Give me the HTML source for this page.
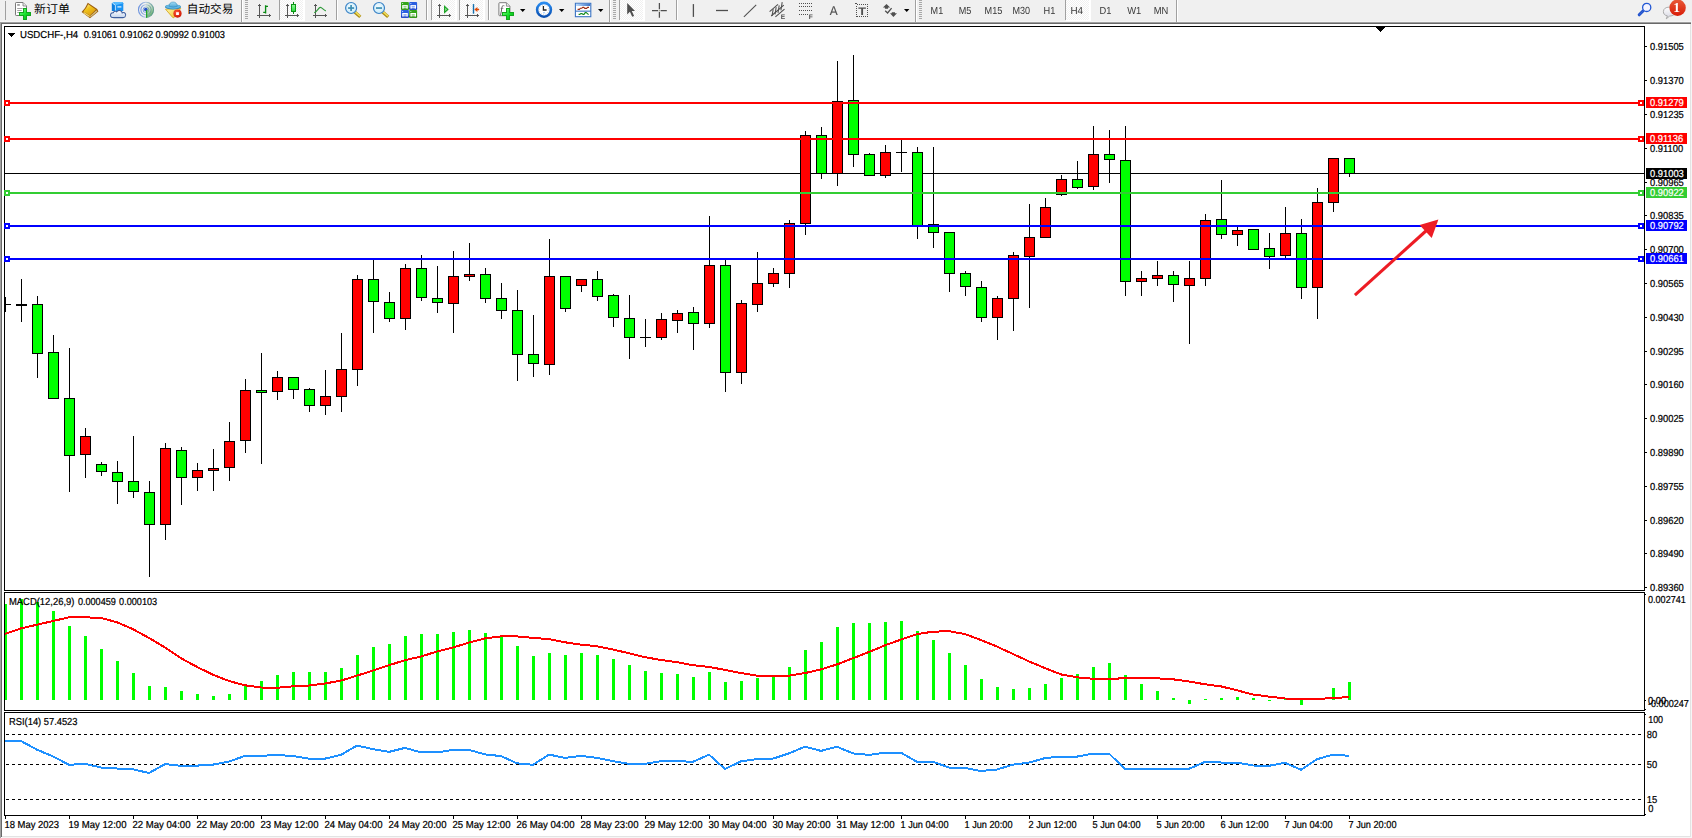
<!DOCTYPE html>
<html lang="zh"><head><meta charset="utf-8"><title>USDCHF-,H4</title>
<style>html,body{margin:0;padding:0;background:#fff;overflow:hidden}body{width:1692px;height:838px}</style></head>
<body>
<svg width="1692" height="838" viewBox="0 0 1692 838" shape-rendering="crispEdges" text-rendering="geometricPrecision" font-family="'Liberation Sans','Noto Sans CJK SC',sans-serif" style="display:block"><defs><clipPath id="cm"><rect x="5" y="27" width="1639" height="563"/></clipPath><clipPath id="cmacd"><rect x="5" y="593" width="1639" height="117"/></clipPath><clipPath id="crsi"><rect x="5" y="713" width="1639" height="102"/></clipPath><clipPath id="ctb"><rect x="0" y="0" width="1692" height="22"/></clipPath><pattern id="chk" x="0" y="0" width="2" height="2" patternUnits="userSpaceOnUse"><rect width="2" height="2" fill="#ffffff"/><rect x="0" y="0" width="1" height="1" fill="#f0f0f0"/><rect x="1" y="1" width="1" height="1" fill="#f0f0f0"/></pattern><linearGradient id="gplus" x1="0" y1="0" x2="1" y2="1"><stop offset="0" stop-color="#7dff86"/><stop offset="0.5" stop-color="#18e22c"/><stop offset="1" stop-color="#0aa818"/></linearGradient><linearGradient id="gold" x1="0.1" y1="0" x2="0.8" y2="1"><stop offset="0" stop-color="#ffe98c"/><stop offset="0.4" stop-color="#f0c21a"/><stop offset="1" stop-color="#d8960e"/></linearGradient><linearGradient id="sigfill" x1="0.2" y1="0" x2="0.6" y2="1"><stop offset="0" stop-color="#dfeadb" stop-opacity="0.5"/><stop offset="0.55" stop-color="#a8d0a4" stop-opacity="0.8"/><stop offset="1" stop-color="#3f9c44"/></linearGradient><linearGradient id="cloud" x1="0" y1="0" x2="0" y2="1"><stop offset="0" stop-color="#ffffff"/><stop offset="1" stop-color="#c4d4ec"/></linearGradient><linearGradient id="sig" x1="0" y1="0" x2="1" y2="0"><stop offset="0" stop-color="#3f73d8"/><stop offset="0.5" stop-color="#9db9dc"/><stop offset="1" stop-color="#4f8f8a"/></linearGradient><linearGradient id="face" x1="0" y1="0" x2="1" y2="1"><stop offset="0" stop-color="#fff7a8"/><stop offset="1" stop-color="#f0c020"/></linearGradient><linearGradient id="hat" x1="0" y1="0" x2="0" y2="1"><stop offset="0" stop-color="#a4dcf4"/><stop offset="1" stop-color="#4aa6d6"/></linearGradient><radialGradient id="stop" cx="0.4" cy="0.35" r="0.7"><stop offset="0" stop-color="#ff5a3a"/><stop offset="1" stop-color="#cc1400"/></radialGradient><linearGradient id="gcandle" x1="0" y1="0" x2="1" y2="0"><stop offset="0" stop-color="#3fe04f"/><stop offset="0.5" stop-color="#a4f4a8"/><stop offset="1" stop-color="#2fd43f"/></linearGradient><linearGradient id="gcandle2" x1="0" y1="0" x2="0" y2="1"><stop offset="0" stop-color="#8cfa94"/><stop offset="1" stop-color="#2fdc42"/></linearGradient><radialGradient id="lens" cx="0.45" cy="0.4" r="0.7"><stop offset="0" stop-color="#f4fcff"/><stop offset="1" stop-color="#bfe6f8"/></radialGradient><linearGradient id="clk" x1="0" y1="0" x2="0" y2="1"><stop offset="0" stop-color="#2a8cf0"/><stop offset="1" stop-color="#0a4fb0"/></linearGradient><linearGradient id="ttl" x1="0" y1="0" x2="1" y2="0"><stop offset="0" stop-color="#bcdcff"/><stop offset="1" stop-color="#3b74c4"/></linearGradient><linearGradient id="bub" x1="0" y1="0" x2="0" y2="1"><stop offset="0" stop-color="#ffffff"/><stop offset="1" stop-color="#d4d4e0"/></linearGradient><linearGradient id="badge" x1="0" y1="0" x2="0" y2="1"><stop offset="0" stop-color="#e85a38"/><stop offset="1" stop-color="#d81c08"/></linearGradient></defs>
<rect x="0" y="0" width="1692" height="838" fill="#ffffff"/>
<rect x="0" y="0" width="1692" height="21" fill="#f0f0f0"/>
<rect x="0" y="21" width="1692" height="1" fill="#f5f5f5"/>
<rect x="0" y="22" width="1691" height="1" fill="#a0a0a0"/>
<rect x="0" y="23" width="1691" height="1" fill="#696969"/>
<rect x="0" y="23" width="1" height="815" fill="#a0a0a0"/>
<rect x="1" y="23" width="1" height="814" fill="#696969"/>
<rect x="1690" y="24" width="1" height="813" fill="#e3e3e3"/>
<rect x="1691" y="22" width="1" height="816" fill="#f6f6f6"/>
<rect x="2" y="836" width="1689" height="1" fill="#e3e3e3"/>
<rect x="2" y="837" width="1690" height="1" fill="#f6f6f6"/>
<rect x="4" y="26" width="1641" height="1" fill="#000"/>
<rect x="4" y="590" width="1641" height="1" fill="#000"/>
<rect x="4" y="26" width="1" height="565" fill="#000"/>
<rect x="1644" y="26" width="1" height="565" fill="#000"/>
<rect x="4" y="592" width="1641" height="1" fill="#000"/>
<rect x="4" y="710" width="1641" height="1" fill="#000"/>
<rect x="4" y="592" width="1" height="119" fill="#000"/>
<rect x="1644" y="592" width="1" height="119" fill="#000"/>
<rect x="4" y="712" width="1641" height="1" fill="#000"/>
<rect x="4" y="815" width="1641" height="1" fill="#000"/>
<rect x="4" y="712" width="1" height="104" fill="#000"/>
<rect x="1644" y="712" width="1" height="104" fill="#000"/>
<polygon points="1375.5,27 1385.5,27 1380.5,32" fill="#000"/>
<rect x="5" y="173" width="1639" height="1" fill="#000"/>
<g clip-path="url(#cm)">
<rect x="5" y="297" width="1" height="15" fill="#000"/>
<rect x="0" y="304" width="11" height="1" fill="#000"/>
<rect x="21" y="279" width="1" height="43" fill="#000"/>
<rect x="16" y="304" width="11" height="2" fill="#000"/>
<rect x="37" y="296" width="1" height="82" fill="#000"/>
<rect x="32" y="304" width="11" height="50" fill="#000"/>
<rect x="33" y="305" width="9" height="48" fill="#00ff00"/>
<rect x="53" y="335" width="1" height="63" fill="#000"/>
<rect x="48" y="352" width="11" height="47" fill="#000"/>
<rect x="49" y="353" width="9" height="45" fill="#00ff00"/>
<rect x="69" y="348" width="1" height="144" fill="#000"/>
<rect x="64" y="398" width="11" height="58" fill="#000"/>
<rect x="65" y="399" width="9" height="56" fill="#00ff00"/>
<rect x="85" y="428" width="1" height="50" fill="#000"/>
<rect x="80" y="436" width="11" height="19" fill="#000"/>
<rect x="81" y="437" width="9" height="17" fill="#ff0000"/>
<rect x="101" y="462" width="1" height="14" fill="#000"/>
<rect x="96" y="464" width="11" height="8" fill="#000"/>
<rect x="97" y="465" width="9" height="6" fill="#00ff00"/>
<rect x="117" y="461" width="1" height="43" fill="#000"/>
<rect x="112" y="472" width="11" height="10" fill="#000"/>
<rect x="113" y="473" width="9" height="8" fill="#00ff00"/>
<rect x="133" y="436" width="1" height="62" fill="#000"/>
<rect x="128" y="481" width="11" height="11" fill="#000"/>
<rect x="129" y="482" width="9" height="9" fill="#00ff00"/>
<rect x="149" y="481" width="1" height="96" fill="#000"/>
<rect x="144" y="492" width="11" height="33" fill="#000"/>
<rect x="145" y="493" width="9" height="31" fill="#00ff00"/>
<rect x="165" y="443" width="1" height="97" fill="#000"/>
<rect x="160" y="448" width="11" height="77" fill="#000"/>
<rect x="161" y="449" width="9" height="75" fill="#ff0000"/>
<rect x="181" y="447" width="1" height="58" fill="#000"/>
<rect x="176" y="450" width="11" height="28" fill="#000"/>
<rect x="177" y="451" width="9" height="26" fill="#00ff00"/>
<rect x="197" y="463" width="1" height="28" fill="#000"/>
<rect x="192" y="470" width="11" height="8" fill="#000"/>
<rect x="193" y="471" width="9" height="6" fill="#ff0000"/>
<rect x="213" y="449" width="1" height="42" fill="#000"/>
<rect x="208" y="468" width="11" height="3" fill="#000"/>
<rect x="209" y="469" width="9" height="1" fill="#ff0000"/>
<rect x="229" y="422" width="1" height="59" fill="#000"/>
<rect x="224" y="441" width="11" height="27" fill="#000"/>
<rect x="225" y="442" width="9" height="25" fill="#ff0000"/>
<rect x="245" y="379" width="1" height="74" fill="#000"/>
<rect x="240" y="390" width="11" height="51" fill="#000"/>
<rect x="241" y="391" width="9" height="49" fill="#ff0000"/>
<rect x="261" y="353" width="1" height="111" fill="#000"/>
<rect x="256" y="390" width="11" height="3" fill="#000"/>
<rect x="257" y="391" width="9" height="1" fill="#00ff00"/>
<rect x="277" y="371" width="1" height="29" fill="#000"/>
<rect x="272" y="377" width="11" height="15" fill="#000"/>
<rect x="273" y="378" width="9" height="13" fill="#ff0000"/>
<rect x="293" y="377" width="1" height="22" fill="#000"/>
<rect x="288" y="377" width="11" height="13" fill="#000"/>
<rect x="289" y="378" width="9" height="11" fill="#00ff00"/>
<rect x="309" y="388" width="1" height="24" fill="#000"/>
<rect x="304" y="389" width="11" height="17" fill="#000"/>
<rect x="305" y="390" width="9" height="15" fill="#00ff00"/>
<rect x="325" y="370" width="1" height="45" fill="#000"/>
<rect x="320" y="396" width="11" height="10" fill="#000"/>
<rect x="321" y="397" width="9" height="8" fill="#ff0000"/>
<rect x="341" y="333" width="1" height="79" fill="#000"/>
<rect x="336" y="369" width="11" height="28" fill="#000"/>
<rect x="337" y="370" width="9" height="26" fill="#ff0000"/>
<rect x="357" y="275" width="1" height="111" fill="#000"/>
<rect x="352" y="279" width="11" height="91" fill="#000"/>
<rect x="353" y="280" width="9" height="89" fill="#ff0000"/>
<rect x="373" y="259" width="1" height="74" fill="#000"/>
<rect x="368" y="279" width="11" height="23" fill="#000"/>
<rect x="369" y="280" width="9" height="21" fill="#00ff00"/>
<rect x="389" y="292" width="1" height="30" fill="#000"/>
<rect x="384" y="302" width="11" height="17" fill="#000"/>
<rect x="385" y="303" width="9" height="15" fill="#00ff00"/>
<rect x="405" y="264" width="1" height="66" fill="#000"/>
<rect x="400" y="268" width="11" height="51" fill="#000"/>
<rect x="401" y="269" width="9" height="49" fill="#ff0000"/>
<rect x="421" y="255" width="1" height="46" fill="#000"/>
<rect x="416" y="268" width="11" height="30" fill="#000"/>
<rect x="417" y="269" width="9" height="28" fill="#00ff00"/>
<rect x="437" y="266" width="1" height="47" fill="#000"/>
<rect x="432" y="298" width="11" height="5" fill="#000"/>
<rect x="433" y="299" width="9" height="3" fill="#00ff00"/>
<rect x="453" y="251" width="1" height="82" fill="#000"/>
<rect x="448" y="276" width="11" height="28" fill="#000"/>
<rect x="449" y="277" width="9" height="26" fill="#ff0000"/>
<rect x="469" y="243" width="1" height="38" fill="#000"/>
<rect x="464" y="274" width="11" height="3" fill="#000"/>
<rect x="465" y="275" width="9" height="1" fill="#ff0000"/>
<rect x="485" y="268" width="1" height="35" fill="#000"/>
<rect x="480" y="274" width="11" height="25" fill="#000"/>
<rect x="481" y="275" width="9" height="23" fill="#00ff00"/>
<rect x="501" y="283" width="1" height="36" fill="#000"/>
<rect x="496" y="298" width="11" height="13" fill="#000"/>
<rect x="497" y="299" width="9" height="11" fill="#00ff00"/>
<rect x="517" y="290" width="1" height="91" fill="#000"/>
<rect x="512" y="310" width="11" height="45" fill="#000"/>
<rect x="513" y="311" width="9" height="43" fill="#00ff00"/>
<rect x="533" y="315" width="1" height="62" fill="#000"/>
<rect x="528" y="354" width="11" height="10" fill="#000"/>
<rect x="529" y="355" width="9" height="8" fill="#00ff00"/>
<rect x="549" y="239" width="1" height="136" fill="#000"/>
<rect x="544" y="276" width="11" height="89" fill="#000"/>
<rect x="545" y="277" width="9" height="87" fill="#ff0000"/>
<rect x="565" y="276" width="1" height="36" fill="#000"/>
<rect x="560" y="276" width="11" height="33" fill="#000"/>
<rect x="561" y="277" width="9" height="31" fill="#00ff00"/>
<rect x="581" y="280" width="1" height="12" fill="#000"/>
<rect x="576" y="279" width="11" height="7" fill="#000"/>
<rect x="577" y="280" width="9" height="5" fill="#ff0000"/>
<rect x="597" y="271" width="1" height="30" fill="#000"/>
<rect x="592" y="279" width="11" height="18" fill="#000"/>
<rect x="593" y="280" width="9" height="16" fill="#00ff00"/>
<rect x="613" y="294" width="1" height="33" fill="#000"/>
<rect x="608" y="295" width="11" height="23" fill="#000"/>
<rect x="609" y="296" width="9" height="21" fill="#00ff00"/>
<rect x="629" y="295" width="1" height="64" fill="#000"/>
<rect x="624" y="318" width="11" height="20" fill="#000"/>
<rect x="625" y="319" width="9" height="18" fill="#00ff00"/>
<rect x="645" y="319" width="1" height="28" fill="#000"/>
<rect x="640" y="337" width="11" height="1" fill="#000"/>
<rect x="661" y="313" width="1" height="27" fill="#000"/>
<rect x="656" y="319" width="11" height="19" fill="#000"/>
<rect x="657" y="320" width="9" height="17" fill="#ff0000"/>
<rect x="677" y="310" width="1" height="23" fill="#000"/>
<rect x="672" y="313" width="11" height="8" fill="#000"/>
<rect x="673" y="314" width="9" height="6" fill="#ff0000"/>
<rect x="693" y="307" width="1" height="43" fill="#000"/>
<rect x="688" y="312" width="11" height="12" fill="#000"/>
<rect x="689" y="313" width="9" height="10" fill="#00ff00"/>
<rect x="709" y="216" width="1" height="112" fill="#000"/>
<rect x="704" y="265" width="11" height="59" fill="#000"/>
<rect x="705" y="266" width="9" height="57" fill="#ff0000"/>
<rect x="725" y="260" width="1" height="132" fill="#000"/>
<rect x="720" y="265" width="11" height="108" fill="#000"/>
<rect x="721" y="266" width="9" height="106" fill="#00ff00"/>
<rect x="741" y="300" width="1" height="84" fill="#000"/>
<rect x="736" y="303" width="11" height="70" fill="#000"/>
<rect x="737" y="304" width="9" height="68" fill="#ff0000"/>
<rect x="757" y="252" width="1" height="60" fill="#000"/>
<rect x="752" y="283" width="11" height="22" fill="#000"/>
<rect x="753" y="284" width="9" height="20" fill="#ff0000"/>
<rect x="773" y="268" width="1" height="19" fill="#000"/>
<rect x="768" y="273" width="11" height="11" fill="#000"/>
<rect x="769" y="274" width="9" height="9" fill="#ff0000"/>
<rect x="789" y="220" width="1" height="68" fill="#000"/>
<rect x="784" y="223" width="11" height="51" fill="#000"/>
<rect x="785" y="224" width="9" height="49" fill="#ff0000"/>
<rect x="805" y="131" width="1" height="104" fill="#000"/>
<rect x="800" y="135" width="11" height="89" fill="#000"/>
<rect x="801" y="136" width="9" height="87" fill="#ff0000"/>
<rect x="821" y="127" width="1" height="52" fill="#000"/>
<rect x="816" y="135" width="11" height="39" fill="#000"/>
<rect x="817" y="136" width="9" height="37" fill="#00ff00"/>
<rect x="837" y="61" width="1" height="125" fill="#000"/>
<rect x="832" y="101" width="11" height="73" fill="#000"/>
<rect x="833" y="102" width="9" height="71" fill="#ff0000"/>
<rect x="853" y="55" width="1" height="112" fill="#000"/>
<rect x="848" y="100" width="11" height="55" fill="#000"/>
<rect x="849" y="101" width="9" height="53" fill="#00ff00"/>
<rect x="869" y="153" width="1" height="23" fill="#000"/>
<rect x="864" y="154" width="11" height="22" fill="#000"/>
<rect x="865" y="155" width="9" height="20" fill="#00ff00"/>
<rect x="885" y="145" width="1" height="33" fill="#000"/>
<rect x="880" y="152" width="11" height="24" fill="#000"/>
<rect x="881" y="153" width="9" height="22" fill="#ff0000"/>
<rect x="901" y="140" width="1" height="32" fill="#000"/>
<rect x="896" y="152" width="11" height="1" fill="#000"/>
<rect x="917" y="147" width="1" height="92" fill="#000"/>
<rect x="912" y="152" width="11" height="74" fill="#000"/>
<rect x="913" y="153" width="9" height="72" fill="#00ff00"/>
<rect x="933" y="147" width="1" height="101" fill="#000"/>
<rect x="928" y="224" width="11" height="9" fill="#000"/>
<rect x="929" y="225" width="9" height="7" fill="#00ff00"/>
<rect x="949" y="232" width="1" height="60" fill="#000"/>
<rect x="944" y="232" width="11" height="42" fill="#000"/>
<rect x="945" y="233" width="9" height="40" fill="#00ff00"/>
<rect x="965" y="271" width="1" height="25" fill="#000"/>
<rect x="960" y="273" width="11" height="14" fill="#000"/>
<rect x="961" y="274" width="9" height="12" fill="#00ff00"/>
<rect x="981" y="281" width="1" height="41" fill="#000"/>
<rect x="976" y="287" width="11" height="31" fill="#000"/>
<rect x="977" y="288" width="9" height="29" fill="#00ff00"/>
<rect x="997" y="296" width="1" height="44" fill="#000"/>
<rect x="992" y="298" width="11" height="20" fill="#000"/>
<rect x="993" y="299" width="9" height="18" fill="#ff0000"/>
<rect x="1013" y="252" width="1" height="79" fill="#000"/>
<rect x="1008" y="255" width="11" height="44" fill="#000"/>
<rect x="1009" y="256" width="9" height="42" fill="#ff0000"/>
<rect x="1029" y="204" width="1" height="104" fill="#000"/>
<rect x="1024" y="237" width="11" height="20" fill="#000"/>
<rect x="1025" y="238" width="9" height="18" fill="#ff0000"/>
<rect x="1045" y="198" width="1" height="39" fill="#000"/>
<rect x="1040" y="207" width="11" height="31" fill="#000"/>
<rect x="1041" y="208" width="9" height="29" fill="#ff0000"/>
<rect x="1061" y="175" width="1" height="21" fill="#000"/>
<rect x="1056" y="179" width="11" height="16" fill="#000"/>
<rect x="1057" y="180" width="9" height="14" fill="#ff0000"/>
<rect x="1077" y="161" width="1" height="28" fill="#000"/>
<rect x="1072" y="179" width="11" height="9" fill="#000"/>
<rect x="1073" y="180" width="9" height="7" fill="#00ff00"/>
<rect x="1093" y="126" width="1" height="64" fill="#000"/>
<rect x="1088" y="154" width="11" height="33" fill="#000"/>
<rect x="1089" y="155" width="9" height="31" fill="#ff0000"/>
<rect x="1109" y="130" width="1" height="53" fill="#000"/>
<rect x="1104" y="154" width="11" height="6" fill="#000"/>
<rect x="1105" y="155" width="9" height="4" fill="#00ff00"/>
<rect x="1125" y="126" width="1" height="170" fill="#000"/>
<rect x="1120" y="160" width="11" height="122" fill="#000"/>
<rect x="1121" y="161" width="9" height="120" fill="#00ff00"/>
<rect x="1141" y="271" width="1" height="25" fill="#000"/>
<rect x="1136" y="278" width="11" height="4" fill="#000"/>
<rect x="1137" y="279" width="9" height="2" fill="#ff0000"/>
<rect x="1157" y="261" width="1" height="25" fill="#000"/>
<rect x="1152" y="275" width="11" height="4" fill="#000"/>
<rect x="1153" y="276" width="9" height="2" fill="#ff0000"/>
<rect x="1173" y="271" width="1" height="31" fill="#000"/>
<rect x="1168" y="275" width="11" height="10" fill="#000"/>
<rect x="1169" y="276" width="9" height="8" fill="#00ff00"/>
<rect x="1189" y="261" width="1" height="83" fill="#000"/>
<rect x="1184" y="278" width="11" height="8" fill="#000"/>
<rect x="1185" y="279" width="9" height="6" fill="#ff0000"/>
<rect x="1205" y="214" width="1" height="72" fill="#000"/>
<rect x="1200" y="220" width="11" height="59" fill="#000"/>
<rect x="1201" y="221" width="9" height="57" fill="#ff0000"/>
<rect x="1221" y="180" width="1" height="59" fill="#000"/>
<rect x="1216" y="219" width="11" height="16" fill="#000"/>
<rect x="1217" y="220" width="9" height="14" fill="#00ff00"/>
<rect x="1237" y="227" width="1" height="19" fill="#000"/>
<rect x="1232" y="230" width="11" height="5" fill="#000"/>
<rect x="1233" y="231" width="9" height="3" fill="#ff0000"/>
<rect x="1253" y="229" width="1" height="21" fill="#000"/>
<rect x="1248" y="229" width="11" height="21" fill="#000"/>
<rect x="1249" y="230" width="9" height="19" fill="#00ff00"/>
<rect x="1269" y="233" width="1" height="36" fill="#000"/>
<rect x="1264" y="248" width="11" height="9" fill="#000"/>
<rect x="1265" y="249" width="9" height="7" fill="#00ff00"/>
<rect x="1285" y="207" width="1" height="51" fill="#000"/>
<rect x="1280" y="233" width="11" height="23" fill="#000"/>
<rect x="1281" y="234" width="9" height="21" fill="#ff0000"/>
<rect x="1301" y="219" width="1" height="80" fill="#000"/>
<rect x="1296" y="233" width="11" height="55" fill="#000"/>
<rect x="1297" y="234" width="9" height="53" fill="#00ff00"/>
<rect x="1317" y="188" width="1" height="131" fill="#000"/>
<rect x="1312" y="202" width="11" height="86" fill="#000"/>
<rect x="1313" y="203" width="9" height="84" fill="#ff0000"/>
<rect x="1333" y="158" width="1" height="54" fill="#000"/>
<rect x="1328" y="158" width="11" height="45" fill="#000"/>
<rect x="1329" y="159" width="9" height="43" fill="#ff0000"/>
<rect x="1349" y="158" width="1" height="19" fill="#000"/>
<rect x="1344" y="158" width="11" height="16" fill="#000"/>
<rect x="1345" y="159" width="9" height="14" fill="#00ff00"/>
</g>
<rect x="5" y="102" width="1639" height="2" fill="#ff0000"/>
<rect x="4" y="100" width="6" height="6" fill="#ff0000"/>
<rect x="6" y="102" width="2" height="2" fill="#fff"/>
<rect x="1638" y="100" width="6" height="6" fill="#ff0000"/>
<rect x="1640" y="102" width="2" height="2" fill="#fff"/>
<rect x="5" y="138" width="1639" height="2" fill="#ff0000"/>
<rect x="4" y="136" width="6" height="6" fill="#ff0000"/>
<rect x="6" y="138" width="2" height="2" fill="#fff"/>
<rect x="1638" y="136" width="6" height="6" fill="#ff0000"/>
<rect x="1640" y="138" width="2" height="2" fill="#fff"/>
<rect x="5" y="192" width="1639" height="2" fill="#32cd32"/>
<rect x="4" y="190" width="6" height="6" fill="#32cd32"/>
<rect x="6" y="192" width="2" height="2" fill="#fff"/>
<rect x="1638" y="190" width="6" height="6" fill="#32cd32"/>
<rect x="1640" y="192" width="2" height="2" fill="#fff"/>
<rect x="5" y="225" width="1639" height="2" fill="#0000ff"/>
<rect x="4" y="223" width="6" height="6" fill="#0000ff"/>
<rect x="6" y="225" width="2" height="2" fill="#fff"/>
<rect x="1638" y="223" width="6" height="6" fill="#0000ff"/>
<rect x="1640" y="225" width="2" height="2" fill="#fff"/>
<rect x="5" y="258" width="1639" height="2" fill="#0000ff"/>
<rect x="4" y="256" width="6" height="6" fill="#0000ff"/>
<rect x="6" y="258" width="2" height="2" fill="#fff"/>
<rect x="1638" y="256" width="6" height="6" fill="#0000ff"/>
<rect x="1640" y="258" width="2" height="2" fill="#fff"/>
<g shape-rendering="geometricPrecision"><line x1="1354.9" y1="295.1" x2="1427" y2="230" stroke="#ed1c24" stroke-width="3.05"/><polygon points="1438.4,219.6 1419.6,225.1 1431.7,237.9" fill="#ed1c24"/></g>
<rect x="1645" y="46" width="2" height="1" fill="#000"/>
<text x="1650" y="50" font-size="10.1" fill="#000" stroke="#000" stroke-width="0.22" text-anchor="start" textLength="33.8" lengthAdjust="spacingAndGlyphs">0.91505</text>
<rect x="1645" y="80" width="2" height="1" fill="#000"/>
<text x="1650" y="84" font-size="10.1" fill="#000" stroke="#000" stroke-width="0.22" text-anchor="start" textLength="33.8" lengthAdjust="spacingAndGlyphs">0.91370</text>
<rect x="1645" y="114" width="2" height="1" fill="#000"/>
<text x="1650" y="118" font-size="10.1" fill="#000" stroke="#000" stroke-width="0.22" text-anchor="start" textLength="33.8" lengthAdjust="spacingAndGlyphs">0.91235</text>
<rect x="1645" y="148" width="2" height="1" fill="#000"/>
<text x="1650" y="152" font-size="10.1" fill="#000" stroke="#000" stroke-width="0.22" text-anchor="start" textLength="33.1" lengthAdjust="spacingAndGlyphs">0.91100</text>
<rect x="1645" y="182" width="2" height="1" fill="#000"/>
<text x="1650" y="186" font-size="10.1" fill="#000" stroke="#000" stroke-width="0.22" text-anchor="start" textLength="33.8" lengthAdjust="spacingAndGlyphs">0.90965</text>
<rect x="1645" y="215" width="2" height="1" fill="#000"/>
<text x="1650" y="219" font-size="10.1" fill="#000" stroke="#000" stroke-width="0.22" text-anchor="start" textLength="33.8" lengthAdjust="spacingAndGlyphs">0.90835</text>
<rect x="1645" y="249" width="2" height="1" fill="#000"/>
<text x="1650" y="253" font-size="10.1" fill="#000" stroke="#000" stroke-width="0.22" text-anchor="start" textLength="33.8" lengthAdjust="spacingAndGlyphs">0.90700</text>
<rect x="1645" y="283" width="2" height="1" fill="#000"/>
<text x="1650" y="287" font-size="10.1" fill="#000" stroke="#000" stroke-width="0.22" text-anchor="start" textLength="33.8" lengthAdjust="spacingAndGlyphs">0.90565</text>
<rect x="1645" y="317" width="2" height="1" fill="#000"/>
<text x="1650" y="321" font-size="10.1" fill="#000" stroke="#000" stroke-width="0.22" text-anchor="start" textLength="33.8" lengthAdjust="spacingAndGlyphs">0.90430</text>
<rect x="1645" y="351" width="2" height="1" fill="#000"/>
<text x="1650" y="355" font-size="10.1" fill="#000" stroke="#000" stroke-width="0.22" text-anchor="start" textLength="33.8" lengthAdjust="spacingAndGlyphs">0.90295</text>
<rect x="1645" y="384" width="2" height="1" fill="#000"/>
<text x="1650" y="388" font-size="10.1" fill="#000" stroke="#000" stroke-width="0.22" text-anchor="start" textLength="33.8" lengthAdjust="spacingAndGlyphs">0.90160</text>
<rect x="1645" y="418" width="2" height="1" fill="#000"/>
<text x="1650" y="422" font-size="10.1" fill="#000" stroke="#000" stroke-width="0.22" text-anchor="start" textLength="33.8" lengthAdjust="spacingAndGlyphs">0.90025</text>
<rect x="1645" y="452" width="2" height="1" fill="#000"/>
<text x="1650" y="456" font-size="10.1" fill="#000" stroke="#000" stroke-width="0.22" text-anchor="start" textLength="33.8" lengthAdjust="spacingAndGlyphs">0.89890</text>
<rect x="1645" y="486" width="2" height="1" fill="#000"/>
<text x="1650" y="490" font-size="10.1" fill="#000" stroke="#000" stroke-width="0.22" text-anchor="start" textLength="33.8" lengthAdjust="spacingAndGlyphs">0.89755</text>
<rect x="1645" y="520" width="2" height="1" fill="#000"/>
<text x="1650" y="524" font-size="10.1" fill="#000" stroke="#000" stroke-width="0.22" text-anchor="start" textLength="33.8" lengthAdjust="spacingAndGlyphs">0.89620</text>
<rect x="1645" y="553" width="2" height="1" fill="#000"/>
<text x="1650" y="557" font-size="10.1" fill="#000" stroke="#000" stroke-width="0.22" text-anchor="start" textLength="33.8" lengthAdjust="spacingAndGlyphs">0.89490</text>
<rect x="1645" y="587" width="2" height="1" fill="#000"/>
<text x="1650" y="591" font-size="10.1" fill="#000" stroke="#000" stroke-width="0.22" text-anchor="start" textLength="33.8" lengthAdjust="spacingAndGlyphs">0.89360</text>
<rect x="1646" y="97" width="41" height="11" fill="#ff0000"/>
<text x="1650" y="106" font-size="10.1" fill="#fff" stroke="#fff" stroke-width="0.22" text-anchor="start" textLength="33.8" lengthAdjust="spacingAndGlyphs">0.91279</text>
<rect x="1646" y="133" width="41" height="11" fill="#ff0000"/>
<text x="1650" y="142" font-size="10.1" fill="#fff" stroke="#fff" stroke-width="0.22" text-anchor="start" textLength="33.1" lengthAdjust="spacingAndGlyphs">0.91136</text>
<rect x="1646" y="168" width="41" height="11" fill="#000"/>
<text x="1650" y="177" font-size="10.1" fill="#fff" stroke="#fff" stroke-width="0.22" text-anchor="start" textLength="33.8" lengthAdjust="spacingAndGlyphs">0.91003</text>
<rect x="1646" y="187" width="41" height="11" fill="#32cd32"/>
<text x="1650" y="196" font-size="10.1" fill="#fff" stroke="#fff" stroke-width="0.22" text-anchor="start" textLength="33.8" lengthAdjust="spacingAndGlyphs">0.90922</text>
<rect x="1646" y="220" width="41" height="11" fill="#0000ff"/>
<text x="1650" y="229" font-size="10.1" fill="#fff" stroke="#fff" stroke-width="0.22" text-anchor="start" textLength="33.8" lengthAdjust="spacingAndGlyphs">0.90792</text>
<rect x="1646" y="253" width="41" height="11" fill="#0000ff"/>
<text x="1650" y="262" font-size="10.1" fill="#fff" stroke="#fff" stroke-width="0.22" text-anchor="start" textLength="33.8" lengthAdjust="spacingAndGlyphs">0.90661</text>
<polygon points="8,33 15,33 11.5,37" fill="#000"/>
<text x="20" y="38" font-size="10.1" fill="#000" stroke="#000" stroke-width="0.22" textLength="58.2" lengthAdjust="spacingAndGlyphs">USDCHF-,H4</text>
<text x="83.7" y="38" font-size="10.1" fill="#000" stroke="#000" stroke-width="0.22" textLength="33.4" lengthAdjust="spacingAndGlyphs">0.91061</text>
<text x="119.65" y="38" font-size="10.1" fill="#000" stroke="#000" stroke-width="0.22" textLength="33.4" lengthAdjust="spacingAndGlyphs">0.91062</text>
<text x="155.60000000000002" y="38" font-size="10.1" fill="#000" stroke="#000" stroke-width="0.22" textLength="33.4" lengthAdjust="spacingAndGlyphs">0.90992</text>
<text x="191.55" y="38" font-size="10.1" fill="#000" stroke="#000" stroke-width="0.22" textLength="33.4" lengthAdjust="spacingAndGlyphs">0.91003</text>
<rect x="5" y="604" width="2" height="96" fill="#00ff00"/>
<rect x="20" y="599" width="3" height="101" fill="#00ff00"/>
<rect x="36" y="602" width="3" height="98" fill="#00ff00"/>
<rect x="52" y="611" width="3" height="89" fill="#00ff00"/>
<rect x="68" y="626" width="3" height="74" fill="#00ff00"/>
<rect x="84" y="636" width="3" height="64" fill="#00ff00"/>
<rect x="100" y="649" width="3" height="51" fill="#00ff00"/>
<rect x="116" y="661" width="3" height="39" fill="#00ff00"/>
<rect x="132" y="673" width="3" height="27" fill="#00ff00"/>
<rect x="148" y="686" width="3" height="14" fill="#00ff00"/>
<rect x="164" y="687" width="3" height="13" fill="#00ff00"/>
<rect x="180" y="691" width="3" height="9" fill="#00ff00"/>
<rect x="196" y="694" width="3" height="6" fill="#00ff00"/>
<rect x="212" y="696" width="3" height="4" fill="#00ff00"/>
<rect x="228" y="694" width="3" height="6" fill="#00ff00"/>
<rect x="244" y="686" width="3" height="14" fill="#00ff00"/>
<rect x="260" y="681" width="3" height="19" fill="#00ff00"/>
<rect x="276" y="675" width="3" height="25" fill="#00ff00"/>
<rect x="292" y="672" width="3" height="28" fill="#00ff00"/>
<rect x="308" y="672" width="3" height="28" fill="#00ff00"/>
<rect x="324" y="672" width="3" height="28" fill="#00ff00"/>
<rect x="340" y="668" width="3" height="32" fill="#00ff00"/>
<rect x="356" y="655" width="3" height="45" fill="#00ff00"/>
<rect x="372" y="647" width="3" height="53" fill="#00ff00"/>
<rect x="388" y="644" width="3" height="56" fill="#00ff00"/>
<rect x="404" y="636" width="3" height="64" fill="#00ff00"/>
<rect x="420" y="634" width="3" height="66" fill="#00ff00"/>
<rect x="436" y="634" width="3" height="66" fill="#00ff00"/>
<rect x="452" y="632" width="3" height="68" fill="#00ff00"/>
<rect x="468" y="630" width="3" height="70" fill="#00ff00"/>
<rect x="484" y="633" width="3" height="67" fill="#00ff00"/>
<rect x="500" y="637" width="3" height="63" fill="#00ff00"/>
<rect x="516" y="646" width="3" height="54" fill="#00ff00"/>
<rect x="532" y="656" width="3" height="44" fill="#00ff00"/>
<rect x="548" y="653" width="3" height="47" fill="#00ff00"/>
<rect x="564" y="655" width="3" height="45" fill="#00ff00"/>
<rect x="580" y="653" width="3" height="47" fill="#00ff00"/>
<rect x="596" y="655" width="3" height="45" fill="#00ff00"/>
<rect x="612" y="659" width="3" height="41" fill="#00ff00"/>
<rect x="628" y="665" width="3" height="35" fill="#00ff00"/>
<rect x="644" y="671" width="3" height="29" fill="#00ff00"/>
<rect x="660" y="673" width="3" height="27" fill="#00ff00"/>
<rect x="676" y="674" width="3" height="26" fill="#00ff00"/>
<rect x="692" y="677" width="3" height="23" fill="#00ff00"/>
<rect x="708" y="672" width="3" height="28" fill="#00ff00"/>
<rect x="724" y="682" width="3" height="18" fill="#00ff00"/>
<rect x="740" y="681" width="3" height="19" fill="#00ff00"/>
<rect x="756" y="678" width="3" height="22" fill="#00ff00"/>
<rect x="772" y="677" width="3" height="23" fill="#00ff00"/>
<rect x="788" y="667" width="3" height="33" fill="#00ff00"/>
<rect x="804" y="650" width="3" height="50" fill="#00ff00"/>
<rect x="820" y="642" width="3" height="58" fill="#00ff00"/>
<rect x="836" y="627" width="3" height="73" fill="#00ff00"/>
<rect x="852" y="623" width="3" height="77" fill="#00ff00"/>
<rect x="868" y="623" width="3" height="77" fill="#00ff00"/>
<rect x="884" y="622" width="3" height="78" fill="#00ff00"/>
<rect x="900" y="621" width="3" height="79" fill="#00ff00"/>
<rect x="916" y="631" width="3" height="69" fill="#00ff00"/>
<rect x="932" y="640" width="3" height="60" fill="#00ff00"/>
<rect x="948" y="653" width="3" height="47" fill="#00ff00"/>
<rect x="964" y="665" width="3" height="35" fill="#00ff00"/>
<rect x="980" y="679" width="3" height="21" fill="#00ff00"/>
<rect x="996" y="687" width="3" height="13" fill="#00ff00"/>
<rect x="1012" y="689" width="3" height="11" fill="#00ff00"/>
<rect x="1028" y="688" width="3" height="12" fill="#00ff00"/>
<rect x="1044" y="684" width="3" height="16" fill="#00ff00"/>
<rect x="1060" y="678" width="3" height="22" fill="#00ff00"/>
<rect x="1076" y="674" width="3" height="26" fill="#00ff00"/>
<rect x="1092" y="667" width="3" height="33" fill="#00ff00"/>
<rect x="1108" y="663" width="3" height="37" fill="#00ff00"/>
<rect x="1124" y="675" width="3" height="25" fill="#00ff00"/>
<rect x="1140" y="684" width="3" height="16" fill="#00ff00"/>
<rect x="1156" y="691" width="3" height="9" fill="#00ff00"/>
<rect x="1172" y="698" width="3" height="2" fill="#00ff00"/>
<rect x="1188" y="700" width="3" height="4" fill="#00ff00"/>
<rect x="1204" y="699" width="3" height="1" fill="#00ff00"/>
<rect x="1220" y="698" width="3" height="2" fill="#00ff00"/>
<rect x="1236" y="697" width="3" height="3" fill="#00ff00"/>
<rect x="1252" y="698" width="3" height="2" fill="#00ff00"/>
<rect x="1268" y="700" width="3" height="1" fill="#00ff00"/>
<rect x="1284" y="699" width="3" height="1" fill="#00ff00"/>
<rect x="1300" y="700" width="3" height="5" fill="#00ff00"/>
<rect x="1332" y="688" width="3" height="12" fill="#00ff00"/>
<rect x="1348" y="682" width="3" height="18" fill="#00ff00"/>
<polyline points="4,634.1 21,628.4 37,624.7 53,621.0 69,617.3 85,617.3 101,618.0 117,622.2 133,629.2 149,637.9 165,647.5 181,658.2 197,666.9 213,674.8 229,681.0 245,685.3 261,687.5 277,687.8 293,686.3 309,685.5 325,683.5 341,680.6 357,675.6 373,670.6 389,665.2 405,660.2 421,656.5 437,651.5 453,647.5 469,642.6 485,638.4 501,636.4 517,636.4 533,637.9 549,639.1 565,642.3 581,644.6 597,646.3 613,649.5 629,653.3 645,657.2 661,660.0 677,662.2 693,665.2 709,666.9 725,669.9 741,673.1 757,675.6 773,676.1 789,675.6 805,673.1 821,669.4 837,664.4 853,658.2 869,652.0 885,645.3 901,639.6 917,634.1 933,631.7 949,631.2 965,634.1 981,640.1 997,646.6 1013,654.0 1029,661.4 1045,668.1 1061,674.4 1077,677.3 1093,678.8 1109,678.8 1125,678.3 1141,678.1 1157,678.3 1173,679.3 1189,681.5 1205,684.3 1221,686.4 1237,690.3 1253,694.5 1269,696.6 1285,698.5 1301,698.8 1317,698.8 1333,698.2 1349,697.0" fill="none" stroke="#ff0000" stroke-width="2" clip-path="url(#cmacd)"/>
<text x="9" y="605" font-size="10.1" fill="#000" stroke="#000" stroke-width="0.22" textLength="65.4" lengthAdjust="spacingAndGlyphs">MACD(12,26,9)</text>
<text x="77.9" y="605" font-size="10.1" fill="#000" stroke="#000" stroke-width="0.22" textLength="38.0" lengthAdjust="spacingAndGlyphs">0.000459</text>
<text x="119.1" y="605" font-size="10.1" fill="#000" stroke="#000" stroke-width="0.22" textLength="38.0" lengthAdjust="spacingAndGlyphs">0.000103</text>
<text x="1648" y="603" font-size="10.1" fill="#000" stroke="#000" stroke-width="0.22" text-anchor="start" textLength="37.8" lengthAdjust="spacingAndGlyphs">0.002741</text>
<rect x="1645" y="700" width="1" height="1" fill="#000"/>
<rect x="1645" y="594" width="1" height="1" fill="#000"/>
<rect x="1645" y="709" width="1" height="1" fill="#000"/>
<rect x="1645" y="714" width="1" height="1" fill="#000"/>
<rect x="1645" y="814" width="1" height="1" fill="#000"/>
<text x="1648" y="704" font-size="10.1" fill="#000" stroke="#000" stroke-width="0.22" text-anchor="start" textLength="18.2" lengthAdjust="spacingAndGlyphs">0.00</text>
<text x="1648" y="707" font-size="10.1" fill="#000" stroke="#000" stroke-width="0.22" text-anchor="start" textLength="40.9" lengthAdjust="spacingAndGlyphs">-0.000247</text>
<line x1="5" y1="734.5" x2="1644" y2="734.5" stroke="#000" stroke-width="1" stroke-dasharray="3,3" stroke-dashoffset="5"/>
<line x1="5" y1="764.5" x2="1644" y2="764.5" stroke="#000" stroke-width="1" stroke-dasharray="3,3" stroke-dashoffset="5"/>
<line x1="5" y1="799.5" x2="1644" y2="799.5" stroke="#000" stroke-width="1" stroke-dasharray="3,3" stroke-dashoffset="5"/>
<polyline points="4,741.0 21,741.0 37,749.7 53,756.4 69,764.8 85,763.8 101,767.5 117,768.5 133,769.3 149,773.0 165,764.1 181,765.8 197,765.6 213,764.6 229,761.6 245,755.9 261,755.9 277,754.9 293,756.1 309,758.6 325,758.6 341,754.9 357,745.5 373,749.2 389,751.9 405,747.9 421,752.4 437,752.4 453,749.9 469,749.9 485,754.4 501,756.1 517,763.3 533,764.8 549,754.6 565,757.9 581,755.9 597,757.9 613,761.1 629,763.8 645,763.8 661,761.1 677,761.1 693,761.8 709,754.6 725,769.0 741,761.3 757,759.1 773,758.6 789,753.4 805,746.7 821,750.9 837,746.7 853,753.4 869,754.9 885,752.7 901,752.7 917,761.8 933,761.8 949,767.5 965,768.0 981,771.0 997,769.5 1013,764.6 1029,762.6 1045,758.1 1061,756.6 1077,756.6 1093,753.6 1109,753.6 1125,769.0 1141,769.0 1157,769.0 1173,769.0 1189,768.8 1205,761.9 1221,762.5 1237,762.5 1253,765.5 1269,765.8 1285,762.8 1301,769.7 1317,759.2 1333,754.6 1349,755.8" fill="none" stroke="#1e90ff" stroke-width="2" clip-path="url(#crsi)"/>
<text x="9" y="725" font-size="10.1" fill="#000" stroke="#000" stroke-width="0.22" textLength="32.2" lengthAdjust="spacingAndGlyphs">RSI(14)</text>
<text x="43.8" y="725" font-size="10.1" fill="#000" stroke="#000" stroke-width="0.22" textLength="33.6" lengthAdjust="spacingAndGlyphs">57.4523</text>
<text x="1648.2" y="723" font-size="10.1" fill="#000" stroke="#000" stroke-width="0.22" text-anchor="start" textLength="14.9" lengthAdjust="spacingAndGlyphs">100</text>
<text x="1646.8" y="738" font-size="10.1" fill="#000" stroke="#000" stroke-width="0.22" text-anchor="start" textLength="10.4" lengthAdjust="spacingAndGlyphs">80</text>
<text x="1646.8" y="768" font-size="10.1" fill="#000" stroke="#000" stroke-width="0.22" text-anchor="start" textLength="10.4" lengthAdjust="spacingAndGlyphs">50</text>
<text x="1646.8" y="803" font-size="10.1" fill="#000" stroke="#000" stroke-width="0.22" text-anchor="start" textLength="10.4" lengthAdjust="spacingAndGlyphs">15</text>
<text x="1648.2" y="812" font-size="10.1" fill="#000" stroke="#000" stroke-width="0.22" text-anchor="start" textLength="5.2" lengthAdjust="spacingAndGlyphs">0</text>
<rect x="5" y="816" width="1" height="3" fill="#000"/>
<text x="4.5" y="828" font-size="10.1" fill="#000" stroke="#000" stroke-width="0.22" textLength="54.6" lengthAdjust="spacingAndGlyphs">18 May 2023</text>
<rect x="69" y="816" width="1" height="3" fill="#000"/>
<text x="68.5" y="828" font-size="10.1" fill="#000" stroke="#000" stroke-width="0.22" textLength="58.0" lengthAdjust="spacingAndGlyphs">19 May 12:00</text>
<rect x="133" y="816" width="1" height="3" fill="#000"/>
<text x="132.5" y="828" font-size="10.1" fill="#000" stroke="#000" stroke-width="0.22" textLength="58.0" lengthAdjust="spacingAndGlyphs">22 May 04:00</text>
<rect x="197" y="816" width="1" height="3" fill="#000"/>
<text x="196.5" y="828" font-size="10.1" fill="#000" stroke="#000" stroke-width="0.22" textLength="58.0" lengthAdjust="spacingAndGlyphs">22 May 20:00</text>
<rect x="261" y="816" width="1" height="3" fill="#000"/>
<text x="260.5" y="828" font-size="10.1" fill="#000" stroke="#000" stroke-width="0.22" textLength="58.0" lengthAdjust="spacingAndGlyphs">23 May 12:00</text>
<rect x="325" y="816" width="1" height="3" fill="#000"/>
<text x="324.5" y="828" font-size="10.1" fill="#000" stroke="#000" stroke-width="0.22" textLength="58.0" lengthAdjust="spacingAndGlyphs">24 May 04:00</text>
<rect x="389" y="816" width="1" height="3" fill="#000"/>
<text x="388.5" y="828" font-size="10.1" fill="#000" stroke="#000" stroke-width="0.22" textLength="58.0" lengthAdjust="spacingAndGlyphs">24 May 20:00</text>
<rect x="453" y="816" width="1" height="3" fill="#000"/>
<text x="452.5" y="828" font-size="10.1" fill="#000" stroke="#000" stroke-width="0.22" textLength="58.0" lengthAdjust="spacingAndGlyphs">25 May 12:00</text>
<rect x="517" y="816" width="1" height="3" fill="#000"/>
<text x="516.5" y="828" font-size="10.1" fill="#000" stroke="#000" stroke-width="0.22" textLength="58.0" lengthAdjust="spacingAndGlyphs">26 May 04:00</text>
<rect x="581" y="816" width="1" height="3" fill="#000"/>
<text x="580.5" y="828" font-size="10.1" fill="#000" stroke="#000" stroke-width="0.22" textLength="58.0" lengthAdjust="spacingAndGlyphs">28 May 23:00</text>
<rect x="645" y="816" width="1" height="3" fill="#000"/>
<text x="644.5" y="828" font-size="10.1" fill="#000" stroke="#000" stroke-width="0.22" textLength="58.0" lengthAdjust="spacingAndGlyphs">29 May 12:00</text>
<rect x="709" y="816" width="1" height="3" fill="#000"/>
<text x="708.5" y="828" font-size="10.1" fill="#000" stroke="#000" stroke-width="0.22" textLength="58.0" lengthAdjust="spacingAndGlyphs">30 May 04:00</text>
<rect x="773" y="816" width="1" height="3" fill="#000"/>
<text x="772.5" y="828" font-size="10.1" fill="#000" stroke="#000" stroke-width="0.22" textLength="58.0" lengthAdjust="spacingAndGlyphs">30 May 20:00</text>
<rect x="837" y="816" width="1" height="3" fill="#000"/>
<text x="836.5" y="828" font-size="10.1" fill="#000" stroke="#000" stroke-width="0.22" textLength="58.0" lengthAdjust="spacingAndGlyphs">31 May 12:00</text>
<rect x="901" y="816" width="1" height="3" fill="#000"/>
<text x="900.5" y="828" font-size="10.1" fill="#000" stroke="#000" stroke-width="0.22" textLength="48.0" lengthAdjust="spacingAndGlyphs">1 Jun 04:00</text>
<rect x="965" y="816" width="1" height="3" fill="#000"/>
<text x="964.5" y="828" font-size="10.1" fill="#000" stroke="#000" stroke-width="0.22" textLength="48.0" lengthAdjust="spacingAndGlyphs">1 Jun 20:00</text>
<rect x="1029" y="816" width="1" height="3" fill="#000"/>
<text x="1028.5" y="828" font-size="10.1" fill="#000" stroke="#000" stroke-width="0.22" textLength="48.0" lengthAdjust="spacingAndGlyphs">2 Jun 12:00</text>
<rect x="1093" y="816" width="1" height="3" fill="#000"/>
<text x="1092.5" y="828" font-size="10.1" fill="#000" stroke="#000" stroke-width="0.22" textLength="48.0" lengthAdjust="spacingAndGlyphs">5 Jun 04:00</text>
<rect x="1157" y="816" width="1" height="3" fill="#000"/>
<text x="1156.5" y="828" font-size="10.1" fill="#000" stroke="#000" stroke-width="0.22" textLength="48.0" lengthAdjust="spacingAndGlyphs">5 Jun 20:00</text>
<rect x="1221" y="816" width="1" height="3" fill="#000"/>
<text x="1220.5" y="828" font-size="10.1" fill="#000" stroke="#000" stroke-width="0.22" textLength="48.0" lengthAdjust="spacingAndGlyphs">6 Jun 12:00</text>
<rect x="1285" y="816" width="1" height="3" fill="#000"/>
<text x="1284.5" y="828" font-size="10.1" fill="#000" stroke="#000" stroke-width="0.22" textLength="48.0" lengthAdjust="spacingAndGlyphs">7 Jun 04:00</text>
<rect x="1349" y="816" width="1" height="3" fill="#000"/>
<text x="1348.5" y="828" font-size="10.1" fill="#000" stroke="#000" stroke-width="0.22" textLength="48.0" lengthAdjust="spacingAndGlyphs">7 Jun 20:00</text>
<g shape-rendering="geometricPrecision" clip-path="url(#ctb)"><rect x="5" y="1" width="1" height="19" fill="#a0a0a0" shape-rendering="crispEdges"/><g transform="translate(15,2)"><path d="M0.5,1.2Q0.5,0.5 1.2,0.5H8L11.5,4V12.8Q11.5,13.5 10.8,13.5H1.2Q0.5,13.5 0.5,12.8Z" fill="#fff" stroke="#7a7a7a" stroke-width="1"/><path d="M8,0.5V4H11.5" fill="#e8e8e8" stroke="#7a7a7a" stroke-width="0.8"/><rect x="2.2" y="2.2" width="2.6" height="1.5" fill="#8a8a8a"/><rect x="2.2" y="6" width="5.5" height="0.9" fill="#9a9a9a"/><rect x="2.2" y="8" width="4.5" height="0.9" fill="#9a9a9a"/><rect x="2.2" y="10" width="3" height="0.9" fill="#9a9a9a"/><g shape-rendering="crispEdges"><path d="M8,6H12V10H16V14H12V18H8V14H4V10H8Z" fill="#12a81c"/><path d="M9,7H11V11H15V13H11V17H9V13H5V11H9Z" fill="url(#gplus)"/></g></g><text x="34" y="13" font-size="11.6" fill="#000" textLength="36" lengthAdjust="spacingAndGlyphs">新订单</text><path d="M87.8,2.7L97.2,9L98.4,11.4L90,18.2L81.6,11.9Q85.4,8.4 87.8,2.7Z" fill="#9c5e0c"/><path d="M96.4,10.3L97.4,11.6L90.4,17.2L90.1,16.1Z" fill="#d2bb7c"/><path d="M88.2,4.3L95.9,9.6L89.9,15.6L83.4,11.6Q86.3,8.6 88.2,4.3Z" fill="url(#gold)"/><path d="M83.6,12.5L89.7,16.5" fill="none" stroke="#f6dc70" stroke-width="1.2"/><path d="M111.9,3L115,2H122.4L123.3,3.2V11H111.9Z" fill="#1a94f4"/><path d="M111.9,3L115.3,5.3V11H111.9Z" fill="#0c7ede"/><path d="M115,2H122.4L123.3,3.2L115.3,5.2L112.4,3Z" fill="#56bbff"/><path d="M112.4,3L115.4,5.3V10.6" fill="none" stroke="#e8f6ff" stroke-width="0.8"/><rect x="117.4" y="6.3" width="4" height="1.2" fill="#e6f5ff"/><path d="M113.4,17.6Q110.2,17.5 110.5,14.8Q110.8,12.6 113.3,12.8Q113.7,10.9 115.6,11.2Q116.4,11.3 116.8,11.8Q118.4,9.7 120.6,10.7Q122,11.4 122.2,12.9Q124.2,12 125.3,13.6Q126.4,15.6 125,16.9Q124.2,17.6 123,17.6Z" fill="url(#cloud)" stroke="#3f5f9e" stroke-width="1.05"/><path d="M146,9.8L146,1.9A7.9,7.9 0 0 1 153.9,9.8A7.9,7.9 0 0 1 146,17.7Z" fill="url(#sigfill)"/><g fill="none"><circle cx="146" cy="9.8" r="7.5" stroke="url(#sig)" stroke-width="1.1" opacity="0.75"/><circle cx="146" cy="9.8" r="5.1" stroke="url(#sig)" stroke-width="1.1" opacity="0.7"/><circle cx="146" cy="9.8" r="2.9" stroke="url(#sig)" stroke-width="1" opacity="0.7"/></g><circle cx="145.8" cy="9.6" r="1.8" fill="#2453c8"/><rect x="146" y="10" width="1.3" height="7.8" fill="#22a428"/><path d="M165.5,9.2L180.7,8.4L174.2,17.4Q173.4,18 172.6,17.4Z" fill="url(#face)" stroke="#d2a21c" stroke-width="0.8"/><ellipse cx="173" cy="6.9" rx="8" ry="2.6" fill="#2f86b6"/><ellipse cx="173" cy="6.6" rx="7.4" ry="2.1" fill="#63b7e4"/><path d="M169.1,6.3Q169.3,2 173.1,2Q176.9,2 177.3,6.3Q173.2,8 169.1,6.3Z" fill="url(#hat)" stroke="#2f86b6" stroke-width="0.5"/><circle cx="177.5" cy="13.6" r="4.1" fill="url(#stop)"/><rect x="176.1" y="12.2" width="2.8" height="2.8" fill="#fff"/><text x="186.8" y="13" font-size="11.6" fill="#000" textLength="46.6" lengthAdjust="spacingAndGlyphs">自动交易</text><rect x="241" y="0" width="1" height="22" fill="#a0a0a0" shape-rendering="crispEdges"/><rect x="242" y="0" width="1" height="22" fill="#ffffff" shape-rendering="crispEdges"/><rect x="245" y="0" width="3" height="1" fill="#a8a8a8" shape-rendering="crispEdges"/><rect x="245" y="2" width="3" height="1" fill="#a8a8a8" shape-rendering="crispEdges"/><rect x="245" y="4" width="3" height="1" fill="#a8a8a8" shape-rendering="crispEdges"/><rect x="245" y="6" width="3" height="1" fill="#a8a8a8" shape-rendering="crispEdges"/><rect x="245" y="8" width="3" height="1" fill="#a8a8a8" shape-rendering="crispEdges"/><rect x="245" y="10" width="3" height="1" fill="#a8a8a8" shape-rendering="crispEdges"/><rect x="245" y="12" width="3" height="1" fill="#a8a8a8" shape-rendering="crispEdges"/><rect x="245" y="14" width="3" height="1" fill="#a8a8a8" shape-rendering="crispEdges"/><rect x="245" y="16" width="3" height="1" fill="#a8a8a8" shape-rendering="crispEdges"/><rect x="245" y="18" width="3" height="1" fill="#a8a8a8" shape-rendering="crispEdges"/><g shape-rendering="crispEdges" fill="#555555"><rect x="259" y="4" width="1" height="14"/><rect x="258" y="5" width="3" height="1"/><rect x="257" y="15" width="14" height="1"/><rect x="269" y="14" width="1" height="3"/></g><path d="M265.6,5.2V13.6M265.6,6.3H268M263.2,12.4H265.6" fill="none" stroke="#0a8a14" stroke-width="1.35"/><rect x="279" y="0" width="1" height="20" fill="#a0a0a0" shape-rendering="crispEdges"/><rect x="280" y="0" width="1" height="20" fill="#ffffff" shape-rendering="crispEdges"/><g shape-rendering="crispEdges"><rect x="280" y="0" width="24" height="20" fill="url(#chk)"/><rect x="303" y="0" width="2" height="21" fill="#ffffff"/><rect x="280" y="20" width="24" height="1" fill="#ffffff"/></g><g shape-rendering="crispEdges" fill="#555555"><rect x="287" y="4" width="1" height="14"/><rect x="286" y="5" width="3" height="1"/><rect x="285" y="15" width="14" height="1"/><rect x="297" y="14" width="1" height="3"/></g><g shape-rendering="crispEdges"><rect x="293" y="2" width="1" height="12" fill="#0a8a14"/><rect x="291" y="4" width="5" height="8" fill="#0a9414"/><rect x="292" y="5" width="3" height="6" fill="url(#gcandle2)"/></g><g shape-rendering="crispEdges" fill="#555555"><rect x="315" y="4" width="1" height="14"/><rect x="314" y="5" width="3" height="1"/><rect x="313" y="15" width="14" height="1"/><rect x="325" y="14" width="1" height="3"/></g><path d="M314.3,12.8C317.4,11 318.6,7.4 320.4,7.4C322,7.4 323.4,10 325.8,10.9" fill="none" stroke="#2f9a3a" stroke-width="1.2"/><rect x="336" y="0" width="1" height="20" fill="#a0a0a0" shape-rendering="crispEdges"/><rect x="337" y="0" width="1" height="20" fill="#ffffff" shape-rendering="crispEdges"/><path d="M354.70000000000005,12L360.3,16.9" stroke="#a98a14" stroke-width="3.2"/><path d="M355.0,11.7L360.1,16.2" stroke="#f0dc58" stroke-width="1.6"/><circle cx="351.1" cy="8" r="5.5" fill="url(#lens)" stroke="#3a82c6" stroke-width="1.2"/><rect x="348.1" y="7.2" width="6" height="1.7" fill="#3f8fb4"/><rect x="350.25" y="5" width="1.7" height="6" fill="#3f8fb4"/><path d="M382.6,12L388.2,16.9" stroke="#a98a14" stroke-width="3.2"/><path d="M382.9,11.7L388,16.2" stroke="#f0dc58" stroke-width="1.6"/><circle cx="379" cy="8" r="5.5" fill="url(#lens)" stroke="#3a82c6" stroke-width="1.2"/><rect x="376" y="7.2" width="6" height="1.7" fill="#3f8fb4"/><rect x="401" y="2.1" width="7.9" height="7.7" rx="0.8" fill="#35a51a"/><rect x="401" y="7.6" width="7.9" height="2.2" rx="0.8" fill="#2b8c12"/><rect x="402.2" y="5.1" width="5.6" height="3.6" fill="#fff"/><rect x="403.4" y="6.199999999999999" width="3.2" height="0.8" fill="#35a51a" opacity="0.6"/><rect x="403.5" y="7.699999999999999" width="3" height="1" fill="#35a51a"/><rect x="402.2" y="3.1" width="0.9" height="0.9" fill="#e8f4ff"/><rect x="409.2" y="2.1" width="7.9" height="7.7" rx="0.8" fill="#2b5fe0"/><rect x="409.2" y="7.6" width="7.9" height="2.2" rx="0.8" fill="#1c3fc0"/><rect x="410.4" y="5.1" width="5.6" height="3.6" fill="#fff"/><rect x="411.59999999999997" y="6.199999999999999" width="3.2" height="0.8" fill="#2b5fe0" opacity="0.6"/><rect x="411.7" y="7.699999999999999" width="3" height="1" fill="#2b5fe0"/><rect x="410.4" y="3.1" width="0.9" height="0.9" fill="#e8f4ff"/><rect x="401" y="10" width="7.9" height="7.7" rx="0.8" fill="#2b5fe0"/><rect x="401" y="15.5" width="7.9" height="2.2" rx="0.8" fill="#1c3fc0"/><rect x="402.2" y="13" width="5.6" height="3.6" fill="#fff"/><rect x="403.4" y="14.1" width="3.2" height="0.8" fill="#2b5fe0" opacity="0.6"/><rect x="403.5" y="15.6" width="3" height="1" fill="#2b5fe0"/><rect x="402.2" y="11" width="0.9" height="0.9" fill="#e8f4ff"/><rect x="409.2" y="10" width="7.9" height="7.7" rx="0.8" fill="#35a51a"/><rect x="409.2" y="15.5" width="7.9" height="2.2" rx="0.8" fill="#2b8c12"/><rect x="410.4" y="13" width="5.6" height="3.6" fill="#fff"/><rect x="411.59999999999997" y="14.1" width="3.2" height="0.8" fill="#35a51a" opacity="0.6"/><rect x="411.7" y="15.6" width="3" height="1" fill="#35a51a"/><rect x="410.4" y="11" width="0.9" height="0.9" fill="#e8f4ff"/><rect x="426" y="0" width="1" height="20" fill="#a0a0a0" shape-rendering="crispEdges"/><rect x="427" y="0" width="1" height="20" fill="#ffffff" shape-rendering="crispEdges"/><rect x="431" y="0" width="1" height="20" fill="#a0a0a0" shape-rendering="crispEdges"/><rect x="432" y="0" width="1" height="20" fill="#ffffff" shape-rendering="crispEdges"/><g shape-rendering="crispEdges"><rect x="432" y="0" width="24" height="20" fill="url(#chk)"/><rect x="455" y="0" width="2" height="21" fill="#ffffff"/><rect x="432" y="20" width="24" height="1" fill="#ffffff"/></g><g shape-rendering="crispEdges" fill="#555555"><rect x="439" y="4" width="1" height="14"/><rect x="438" y="5" width="3" height="1"/><rect x="437" y="15" width="14" height="1"/><rect x="449" y="14" width="1" height="3"/></g><path d="M444.6,6.3L447.9,9.4L444.6,12.5Z" fill="#8fe08f" stroke="#14a01e" stroke-width="1.1"/><rect x="459" y="0" width="1" height="20" fill="#a0a0a0" shape-rendering="crispEdges"/><rect x="460" y="0" width="1" height="20" fill="#ffffff" shape-rendering="crispEdges"/><g shape-rendering="crispEdges"><rect x="460" y="0" width="24" height="20" fill="url(#chk)"/><rect x="483" y="0" width="2" height="21" fill="#ffffff"/><rect x="460" y="20" width="24" height="1" fill="#ffffff"/></g><g shape-rendering="crispEdges" fill="#555555"><rect x="467" y="4" width="1" height="14"/><rect x="466" y="5" width="3" height="1"/><rect x="465" y="15" width="14" height="1"/><rect x="477" y="14" width="1" height="3"/></g><rect x="472.8" y="4.1" width="1.4" height="9.6" fill="#1470b0"/><path d="M474.3,9.5L477.4,6.9V8.7H479.1V10.3H477.4V12.1Z" fill="#e04a08"/><rect x="488" y="0" width="1" height="20" fill="#a0a0a0" shape-rendering="crispEdges"/><rect x="489" y="0" width="1" height="20" fill="#ffffff" shape-rendering="crispEdges"/><g transform="translate(498.4,2.2)"><path d="M0.5,1.2Q0.5,0.5 1.2,0.5H8L11.5,4V12.8Q11.5,13.5 10.8,13.5H1.2Q0.5,13.5 0.5,12.8Z" fill="#fff" stroke="#7a7a7a" stroke-width="1"/><path d="M8,0.5V4H11.5" fill="#e8e8e8" stroke="#7a7a7a" stroke-width="0.8"/><g style="filter:grayscale(1)"><text x="1.6" y="10.6" font-size="11" font-style="italic" fill="#5a5040" font-family="'Liberation Serif',serif">f</text></g><g shape-rendering="crispEdges"><path d="M8,6H12V10H16V14H12V18H8V14H4V10H8Z" fill="#12a81c"/><path d="M9,7H11V11H15V13H11V17H9V13H5V11H9Z" fill="url(#gplus)"/></g></g><polygon points="520,9 525.4,9 522.7,12" fill="#000"/><circle cx="544" cy="9.8" r="6.9" fill="#fff" stroke="url(#clk)" stroke-width="2.6"/><circle cx="544" cy="9.8" r="4.6" fill="none" stroke="#a8a8a8" stroke-width="0.8" stroke-dasharray="0.7,1.71"/><path d="M543.4,6V10H546.6" fill="none" stroke="#222" stroke-width="1.3"/><rect x="543" y="12.4" width="2" height="0.8" fill="#7ab8ff"/><polygon points="559,9 564.4,9 561.7,12" fill="#000"/><rect x="575.4" y="3.3" width="15.4" height="13.4" fill="#fff" stroke="#3b74c4" stroke-width="1.1"/><rect x="576" y="3.8" width="14.2" height="2.2" fill="url(#ttl)"/><rect x="575.4" y="10.6" width="15.4" height="1.1" fill="#3b74c4"/><path d="M577.6,9.4H579.4L580.4,8.2H581.8L582.8,7.4H583.8L584.8,8.4H586.6L587.6,7.4H589" fill="none" stroke="#9a2a12" stroke-width="1.1"/><path d="M578.6,14.4H579.8L580.8,13.6H582L583,14.4H584L585.2,12.6H586.2L588.6,14.6" fill="none" stroke="#138a1c" stroke-width="1.1"/><polygon points="598,9 603.4,9 600.7,12" fill="#000"/><rect x="609" y="0" width="1" height="22" fill="#a0a0a0" shape-rendering="crispEdges"/><rect x="610" y="0" width="1" height="22" fill="#ffffff" shape-rendering="crispEdges"/><rect x="613" y="0" width="3" height="1" fill="#a8a8a8" shape-rendering="crispEdges"/><rect x="613" y="2" width="3" height="1" fill="#a8a8a8" shape-rendering="crispEdges"/><rect x="613" y="4" width="3" height="1" fill="#a8a8a8" shape-rendering="crispEdges"/><rect x="613" y="6" width="3" height="1" fill="#a8a8a8" shape-rendering="crispEdges"/><rect x="613" y="8" width="3" height="1" fill="#a8a8a8" shape-rendering="crispEdges"/><rect x="613" y="10" width="3" height="1" fill="#a8a8a8" shape-rendering="crispEdges"/><rect x="613" y="12" width="3" height="1" fill="#a8a8a8" shape-rendering="crispEdges"/><rect x="613" y="14" width="3" height="1" fill="#a8a8a8" shape-rendering="crispEdges"/><rect x="613" y="16" width="3" height="1" fill="#a8a8a8" shape-rendering="crispEdges"/><rect x="613" y="18" width="3" height="1" fill="#a8a8a8" shape-rendering="crispEdges"/><rect x="619" y="0" width="1" height="20" fill="#a0a0a0" shape-rendering="crispEdges"/><rect x="620" y="0" width="1" height="20" fill="#ffffff" shape-rendering="crispEdges"/><g shape-rendering="crispEdges"><rect x="620" y="0" width="24" height="20" fill="url(#chk)"/><rect x="643" y="0" width="2" height="21" fill="#ffffff"/><rect x="620" y="20" width="24" height="1" fill="#ffffff"/></g><path d="M627.2,3V14.4L629.9,11.8L632.2,16.8L634.1,15.9L631.8,10.9H635Z" fill="#4f4f4f"/><path d="M652,10.5H658.2M660.6,10.5H666.8M659.4,3V9.3M659.4,11.7V17.8" fill="none" stroke="#4f4f4f" stroke-width="1.25"/><rect x="659" y="10.1" width="0.8" height="0.8" fill="#8a8a60"/><rect x="676" y="0" width="1" height="20" fill="#a0a0a0" shape-rendering="crispEdges"/><rect x="677" y="0" width="1" height="20" fill="#ffffff" shape-rendering="crispEdges"/><path d="M693.4,4.1V16.9" stroke="#4f4f4f" stroke-width="1.3"/><path d="M716,10.5H728" stroke="#4f4f4f" stroke-width="1.3"/><path d="M743.9,16.8L756.2,4.8" stroke="#4f4f4f" stroke-width="1.05"/><g fill="none" stroke="#4f4f4f"><path d="M769.6,11.6L778,4.4M771.2,16L783.8,5.2M775.4,16.9L784.5,9.2" stroke-width="1.1"/><path d="M773.2,9.2L772,16M776.2,7.2L775,14.4M779.2,5.4L778,12.8M782.2,2.2L780.9,10.4" stroke-width="1.05"/></g><g style="filter:grayscale(1)"><text x="780.8" y="18.9" font-size="6.6" font-weight="bold" fill="#4f4f4f">E</text></g><g fill="none" stroke="#4f4f4f" stroke-width="1" stroke-dasharray="1,1"><path d="M799,3.5H813M799,6.5H813M799,10.5H813M799,14.5H808"/></g><g style="filter:grayscale(1)"><text x="808.7" y="18.7" font-size="6.6" font-weight="bold" fill="#4f4f4f">F</text></g><g style="filter:grayscale(1)"><text x="829.8" y="15" font-size="12.8" fill="#4f4f4f" stroke="#4f4f4f" stroke-width="0.15" textLength="7.9" lengthAdjust="spacingAndGlyphs">A</text></g><g shape-rendering="crispEdges" fill="#4f4f4f"><rect x="857" y="4" width="1" height="1"/><rect x="857" y="16" width="1" height="1"/><rect x="859" y="4" width="1" height="1"/><rect x="859" y="16" width="1" height="1"/><rect x="861" y="4" width="1" height="1"/><rect x="861" y="16" width="1" height="1"/><rect x="863" y="4" width="1" height="1"/><rect x="863" y="16" width="1" height="1"/><rect x="865" y="4" width="1" height="1"/><rect x="865" y="16" width="1" height="1"/><rect x="867" y="4" width="1" height="1"/><rect x="867" y="16" width="1" height="1"/><rect x="856" y="6" width="1" height="1"/><rect x="867" y="6" width="1" height="1"/><rect x="856" y="8" width="1" height="1"/><rect x="867" y="8" width="1" height="1"/><rect x="856" y="10" width="1" height="1"/><rect x="867" y="10" width="1" height="1"/><rect x="856" y="12" width="1" height="1"/><rect x="867" y="12" width="1" height="1"/><rect x="856" y="14" width="1" height="1"/><rect x="867" y="14" width="1" height="1"/><rect x="856" y="16" width="1" height="1"/><rect x="855" y="3" width="2" height="1"/></g><g style="filter:grayscale(1)"><text x="858.2" y="14.6" font-size="11" font-weight="bold" fill="#4f4f4f" textLength="7.8" lengthAdjust="spacingAndGlyphs">T</text></g><path d="M886.5,3.9L890.1,7.6H888.1V8.8H884.9V7.6H882.9Z" fill="#4f4f4f"/><path d="M893.4,16.9L897,13.3H895V12.2H891.8V13.3H890Z" fill="#4f4f4f"/><path d="M885.2,10.8L887.6,13L891.6,8.2" fill="none" stroke="#4f4f4f" stroke-width="1.3"/><polygon points="904,9 909.4,9 906.7,12" fill="#000"/><rect x="915" y="0" width="1" height="22" fill="#a0a0a0" shape-rendering="crispEdges"/><rect x="916" y="0" width="1" height="22" fill="#ffffff" shape-rendering="crispEdges"/><rect x="919" y="0" width="3" height="1" fill="#a8a8a8" shape-rendering="crispEdges"/><rect x="919" y="2" width="3" height="1" fill="#a8a8a8" shape-rendering="crispEdges"/><rect x="919" y="4" width="3" height="1" fill="#a8a8a8" shape-rendering="crispEdges"/><rect x="919" y="6" width="3" height="1" fill="#a8a8a8" shape-rendering="crispEdges"/><rect x="919" y="8" width="3" height="1" fill="#a8a8a8" shape-rendering="crispEdges"/><rect x="919" y="10" width="3" height="1" fill="#a8a8a8" shape-rendering="crispEdges"/><rect x="919" y="12" width="3" height="1" fill="#a8a8a8" shape-rendering="crispEdges"/><rect x="919" y="14" width="3" height="1" fill="#a8a8a8" shape-rendering="crispEdges"/><rect x="919" y="16" width="3" height="1" fill="#a8a8a8" shape-rendering="crispEdges"/><rect x="919" y="18" width="3" height="1" fill="#a8a8a8" shape-rendering="crispEdges"/><rect x="1065" y="0" width="1" height="20" fill="#a0a0a0" shape-rendering="crispEdges"/><rect x="1066" y="0" width="1" height="20" fill="#ffffff" shape-rendering="crispEdges"/><rect x="1176" y="0" width="1" height="22" fill="#a0a0a0" shape-rendering="crispEdges"/><rect x="1177" y="0" width="1" height="22" fill="#ffffff" shape-rendering="crispEdges"/><g shape-rendering="crispEdges"><rect x="1066" y="0" width="24" height="20" fill="url(#chk)"/><rect x="1089" y="0" width="2" height="21" fill="#ffffff"/><rect x="1066" y="20" width="24" height="1" fill="#ffffff"/></g><g style="filter:grayscale(1)"><text x="930.6" y="13.8" font-size="10.3" fill="#383838" textLength="12.6" lengthAdjust="spacingAndGlyphs">M1</text><text x="958.8" y="13.8" font-size="10.3" fill="#383838" textLength="12.6" lengthAdjust="spacingAndGlyphs">M5</text><text x="984.6" y="13.8" font-size="10.3" fill="#383838" textLength="17.8" lengthAdjust="spacingAndGlyphs">M15</text><text x="1012.5" y="13.8" font-size="10.3" fill="#383838" textLength="17.6" lengthAdjust="spacingAndGlyphs">M30</text><text x="1043.5" y="13.8" font-size="10.3" fill="#383838" textLength="11.8" lengthAdjust="spacingAndGlyphs">H1</text><text x="1070.4" y="13.8" font-size="10.3" fill="#383838" textLength="12.6" lengthAdjust="spacingAndGlyphs">H4</text><text x="1099.5" y="13.8" font-size="10.3" fill="#383838" textLength="11.9" lengthAdjust="spacingAndGlyphs">D1</text><text x="1127.2" y="13.8" font-size="10.3" fill="#383838" textLength="14.1" lengthAdjust="spacingAndGlyphs">W1</text><text x="1153.7" y="13.8" font-size="10.3" fill="#383838" textLength="14.6" lengthAdjust="spacingAndGlyphs">MN</text></g><path d="M1643.2,10.8L1639.2,14.8" stroke="#1f50cc" stroke-width="3" stroke-linecap="round"/><path d="M1643.4,10.6L1639.6,14.4" stroke="#5f88e8" stroke-width="0.8" stroke-dasharray="0.8,0.8"/><circle cx="1646.7" cy="7.4" r="4.1" fill="#f4f4ff" stroke="#2358d4" stroke-width="1.3"/><path d="M1666.3,18.8L1667.4,15.9Q1663.2,15 1663.4,11.4Q1663.8,7.2 1669.4,7.1Q1675.4,7.2 1675.6,11.6Q1675.2,15.8 1669.6,16.1Z" fill="url(#bub)" stroke="#a4a4a4" stroke-width="0.9"/><circle cx="1677.6" cy="7.7" r="8.2" fill="url(#badge)"/><g style="filter:grayscale(1)"><text x="1676.6" y="12.3" font-size="13.6" font-weight="bold" fill="#fff" text-anchor="middle" font-family="'Liberation Serif','Liberation Sans',serif">1</text></g></g>
</svg>
</body></html>
